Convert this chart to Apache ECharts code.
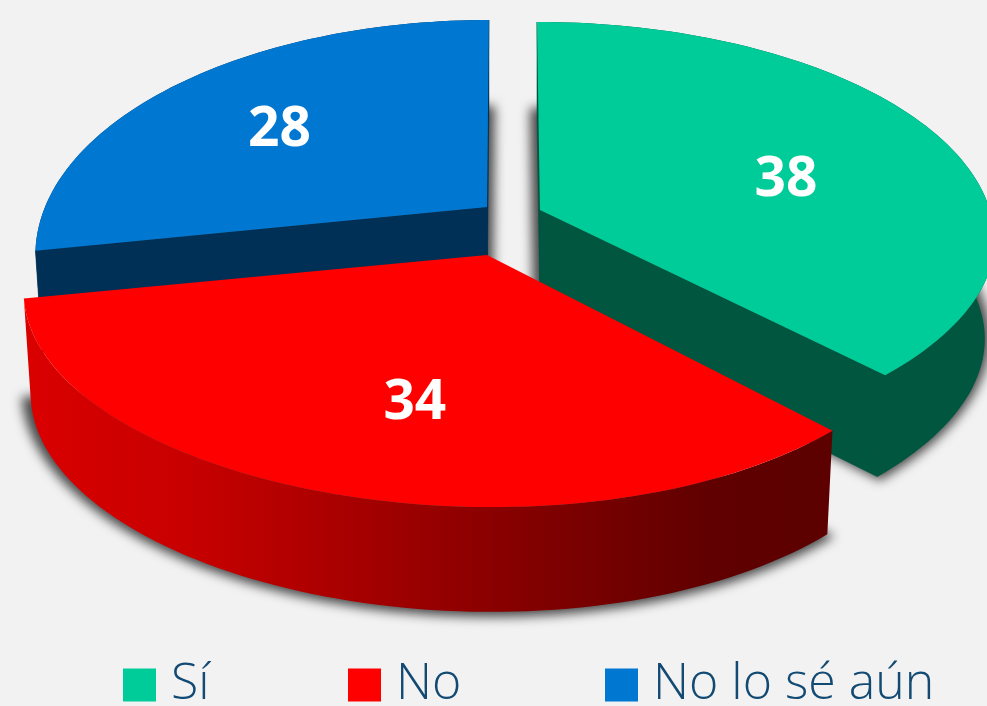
<!DOCTYPE html>
<html><head><meta charset="utf-8">
<style>html,body{margin:0;padding:0;background:#f2f2f2;overflow:hidden}#c{width:987px;height:706px}</style>
<script src="https://cdn.jsdelivr.net/npm/echarts@6/dist/echarts.min.js"></script>
</head><body><div id="c"></div>
<script>
const categories = ['Sí', 'No', 'No lo sé aún'];
const values = [38, 34, 28];
const colors = ['#00CC99', '#FF0000', '#0078D2'];
const cutColors = ['#00563F', '#8B0000', '#003056'];

// Perspective disc per slice: apex, radii, tilt; label placement.
const discs = [
  {ox:540,oy:210,a:450,b:213.9,k:0.1376,m:0,shear:0.016,tilt:0,pinch:0.032,xs:0.978,dz:99,sdx:-7,lr:0.59,ldx:7,ldy:15,order:1},
  {ox:487,oy:255,a:452,b:213,k:0.155,m:0.0125,shear:0,tilt:0.008,pinch:-0.02,xs:0.985,dz:101,sdx:0,lr:0.6,ldx:20,ldy:15,order:3},
  {ox:487,oy:207,a:442,b:224.4,k:0.2,m:0,shear:-0.01,tilt:0,pinch:0,xs:0.985,dz:101,sdx:6,lr:0.65,ldx:-4,ldy:9,order:2}
];
const legendLefts = [123, 348, 605];
const YS = 1.015, STEP = 1.5, SHADOW_SHIFT = 3000;
const total = values.reduce((s, v) => s + v, 0);

function flat(d, deg, r) {
  const t = deg * Math.PI / 180, u = Math.sin(t) * r, v = Math.cos(t) * r, w = 1 + d.k * v + d.m * u;
  const x = d.a * u / w, y = -d.b * v / w;
  return [x + d.shear * y, y - d.tilt * x - d.pinch * x * Math.max(0, -v)];
}
function arc(d, t1, t2, map) {
  const pts = [], n = Math.max(2, Math.ceil((t2 - t1) / STEP));
  for (let i = 0; i <= n; i++) pts.push(map(flat(d, t1 + (t2 - t1) * i / n, 1)));
  return pts;
}
function sliceSeries(i) {
  const before = values.slice(0, i).reduce((s, v) => s + v, 0);
  const d = discs[i];
  const top = p => [d.ox + p[0], d.oy + p[1]];
  const bot = p => [d.ox + d.xs * p[0], d.oy + d.dz + YS * p[1]];
  const shadow = p => [d.ox + d.sdx + 1.005 * p[0], d.oy + 96 + 1.055 * p[1]];
  const rimFill = i === 1
    ? new echarts.graphic.LinearGradient(0, 0, 1, 0, [
        {offset: 0, color: '#DA0000'}, {offset: 0.2, color: '#C80000'},
        {offset: 0.55, color: '#8F0000'}, {offset: 0.85, color: '#600000'},
        {offset: 1, color: '#5C0000'}])
    : cutColors[i];
  return {
    type: 'custom', name: categories[i], coordinateSystem: 'none',
    itemStyle: {color: colors[i]}, silent: true, animation: false,
    data: [[values[i]]],
    renderItem: function (params, api) {
      const t1 = before / total * 360, t2 = t1 + api.value(0) / total * 360;
      const topArc = arc(d, t1, t2, top), botArc = arc(d, t1, t2, bot);
      const apexT = [d.ox, d.oy], apexB = [d.ox, d.oy + d.dz];
      const base = d.order * 10;
      const poly = (points, fill, z2, seam) => ({type: 'polygon', z2, shape: {points},
        style: seam ? {fill, stroke: fill, lineWidth: 0.6} : {fill}});
      const mid = (t1 + t2) / 2, lp = top(flat(d, mid, d.lr));
      const cuts = i === 1 ? [] : [
        poly([apexT, topArc[0], botArc[0], apexB], cutColors[i], base + 1, true),
        poly([apexT, topArc[topArc.length - 1], botArc[botArc.length - 1], apexB], cutColors[i], base + 2, true)
      ];
      return {type: 'group', children: [
        {type: 'polygon', z2: 1, x: -SHADOW_SHIFT,
         shape: {points: [[d.ox + d.sdx, d.oy + 96]].concat(arc(d, t1, t2, shadow))},
         style: {fill: '#4a4a4a', shadowBlur: 11, shadowColor: '#4a4a4a', shadowOffsetX: SHADOW_SHIFT}},
        poly(topArc.concat(botArc.slice().reverse()), rimFill, base, false)
      ].concat(cuts, [
        poly([apexT].concat(topArc), colors[i], base + 3),
        {type: 'text', z2: 100, x: lp[0] + d.ldx, y: lp[1] + d.ldy,
         style: {text: String(api.value(0)), fill: '#fff', font: 'bold 55px "Open Sans"', align: 'center', verticalAlign: 'middle'}}
      ])};
    }
  };
}
const chart = echarts.init(document.getElementById('c'), null, {renderer: 'canvas'});
chart.setOption({
  backgroundColor: '#F2F2F2', animation: false,
  legend: categories.map((name, i) => ({
    left: legendLefts[i], top: 660, padding: 0, icon: 'rect', itemWidth: 33, itemHeight: 33,
    selectedMode: false, data: [name],
    textStyle: {color: '#134A73', fontFamily: '"Open Sans"', fontWeight: 300, fontSize: 50, padding: [0, 0, 0, 10]}
  })),
  series: [0, 1, 2].map(sliceSeries)
});
</script></body></html>
